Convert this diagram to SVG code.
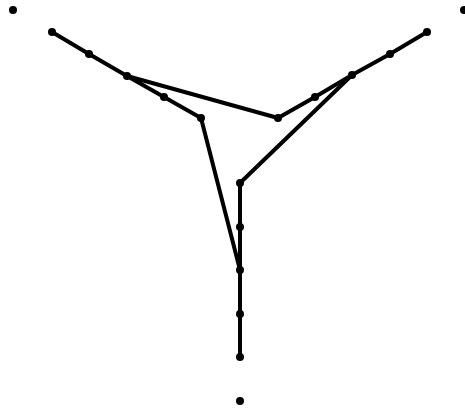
<svg xmlns="http://www.w3.org/2000/svg" width="465" height="410" viewBox="0 0 465 410">
<style>
.e{stroke:#000;stroke-width:4;fill:none;stroke-linecap:round;stroke-linejoin:round}
.n{fill:#000}
</style>
<rect width="465" height="410" fill="#fff"/>
<g id="edges">
<polyline class="e" points="52,32 89,54 127,76 164,97 201,118 240,270"/>
<polyline class="e" points="427,32 390,54 352,75 315,97 278,118 127,76"/>
<polyline class="e" points="352,75 240,183 240,227 240,270 240,314 240,357"/>
</g>
<g id="n0"><circle class="n" cx="13" cy="10" r="4"/></g>
<g id="n1"><circle class="n" cx="464" cy="10" r="4"/></g>
<g id="n2"><circle class="n" cx="240" cy="401" r="4"/></g>
<g id="n3"><circle class="n" cx="52" cy="32" r="4"/></g>
<g id="n4"><circle class="n" cx="89" cy="54" r="4"/></g>
<g id="n5"><circle class="n" cx="127" cy="76" r="4"/></g>
<g id="n6"><circle class="n" cx="164" cy="97" r="4"/></g>
<g id="n7"><circle class="n" cx="201" cy="118" r="4"/></g>
<g id="n8"><circle class="n" cx="427" cy="32" r="4"/></g>
<g id="n9"><circle class="n" cx="390" cy="54" r="4"/></g>
<g id="n10"><circle class="n" cx="352" cy="75" r="4"/></g>
<g id="n11"><circle class="n" cx="315" cy="97" r="4"/></g>
<g id="n12"><circle class="n" cx="278" cy="118" r="4"/></g>
<g id="n13"><circle class="n" cx="240" cy="183" r="4"/></g>
<g id="n14"><circle class="n" cx="240" cy="227" r="4"/></g>
<g id="n15"><circle class="n" cx="240" cy="270" r="4"/></g>
<g id="n16"><circle class="n" cx="240" cy="314" r="4"/></g>
<g id="n17"><circle class="n" cx="240" cy="357" r="4"/></g>
</svg>
